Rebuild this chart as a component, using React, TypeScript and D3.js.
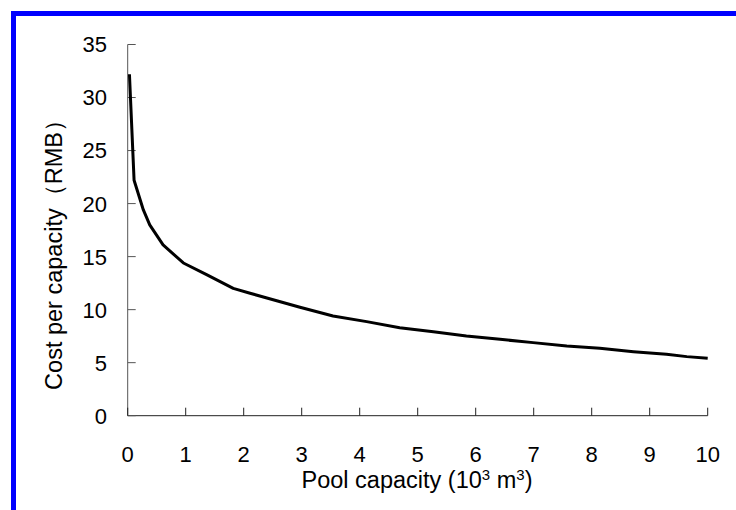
import React from "react";
import * as d3 from "d3";

const xTicks = [0, 1, 2, 3, 4, 5, 6, 7, 8, 9, 10];
const yTicks = [0, 5, 10, 15, 20, 25, 30, 35];
const capacity = [0.03, 0.11, 0.27, 0.38, 0.61, 0.96, 1.36, 1.82, 2.11, 2.4, 2.97, 3.54, 4.12, 4.69, 5.27, 5.84, 6.42, 6.99, 7.57, 8.14, 8.72, 9.29, 9.64, 10];
const cost = [32.2, 22.2, 19.4, 18.0, 16.1, 14.4, 13.3, 12.0, 11.55, 11.1, 10.23, 9.4, 8.87, 8.3, 7.92, 7.52, 7.2, 6.89, 6.58, 6.36, 6.04, 5.79, 5.57, 5.42];

const W = 736, H = 510;
const left = 127.7, right = 707.7, top = 44.5, bottom = 415.7;

export default function App() {
  const x = d3.scaleLinear().domain([0, 10]).range([left, right]);
  const y = d3.scaleLinear().domain([0, 35]).range([bottom, top]);
  const pts = capacity.map((c, i) => [c, cost[i]] as [number, number]);
  const line = d3.line<[number, number]>().x(d => x(d[0])).y(d => y(d[1]));
  const font = "'Liberation Sans', Arial, sans-serif";
  const axisColor = "#555";
  const fs = 22;
  const tfs = 23.5;
  return (
    <svg width={W} height={H} style={{ position: "absolute", left: 0, top: 0, background: "#fff" }}>
      <rect x={0} y={0} width={W} height={H} fill="#fff" />
      <rect x={11} y={11} width={W - 11} height={5} fill="#0000ff" />
      <rect x={11} y={11} width={5} height={H - 11} fill="#0000ff" />
      <line x1={left} x2={left} y1={top} y2={bottom} stroke={axisColor} strokeWidth={1} />
      <line x1={left} x2={right} y1={bottom} y2={bottom} stroke="#222" strokeWidth={1} />
      {yTicks.map(t => (
        <g key={"y" + t}>
          <line x1={left} x2={left + 8} y1={y(t)} y2={y(t)} stroke={axisColor} strokeWidth={1} />
          <text x={107} y={y(t)} dy="0.36em" textAnchor="end" fontFamily={font} fontSize={fs} fill="#000">{t}</text>
        </g>
      ))}
      {xTicks.map(t => (
        <g key={"x" + t}>
          <line x1={x(t)} x2={x(t)} y1={bottom} y2={bottom - 8} stroke="#222" strokeWidth={1} />
          <text x={x(t)} y={462} textAnchor="middle" fontFamily={font} fontSize={fs} fill="#000">{t}</text>
        </g>
      ))}
      <path d={line(pts) || ""} fill="none" stroke="#000" strokeWidth={3} strokeLinejoin="round" />
      <text x={417} y={488} textAnchor="middle" fontFamily={font} fontSize={tfs} fill="#000">
        Pool capacity (10<tspan dy={-8} fontSize={15}>3</tspan><tspan dy={8}> m</tspan><tspan dy={-8} fontSize={15}>3</tspan><tspan dy={8}>)</tspan>
      </text>
      <text transform={`translate(62,249) rotate(-90)`} textAnchor="middle" fontFamily={font} fontSize={tfs} fill="#000">
        Cost per capacity（RMB）
      </text>
    </svg>
  );
}
